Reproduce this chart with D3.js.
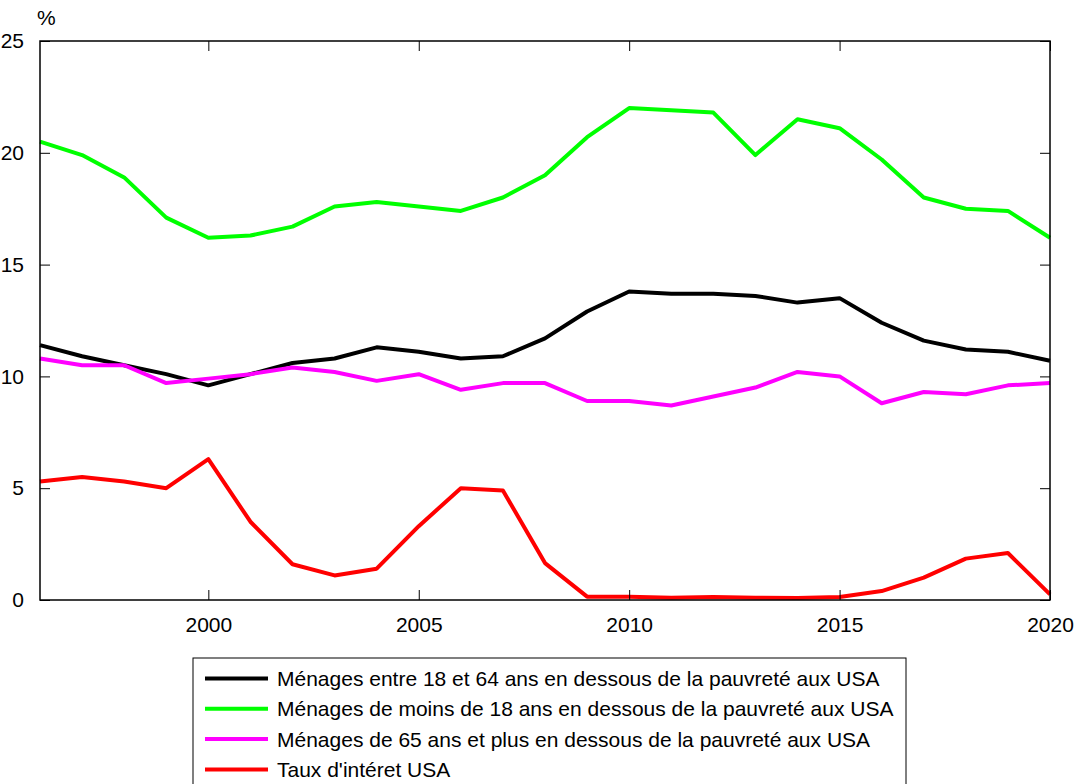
<!DOCTYPE html>
<html>
<head>
<meta charset="utf-8">
<script src="https://cdn.jsdelivr.net/npm/d3@7"></script>
<style>
  body { margin: 0; background: #fff; }
  svg { display: block; font-family: "Liberation Sans", Arial, sans-serif; }
</style>
</head>
<body>
<svg id="chart" width="1083" height="784"></svg>
<script>
const years = d3.range(1996, 2021);
const yTicks = [0, 5, 10, 15, 20, 25];
const xTicks = [2000, 2005, 2010, 2015, 2020];

const adults = [11.4, 10.9, 10.5, 10.1, 9.6, 10.1, 10.6, 10.8, 11.3, 11.1, 10.8, 10.9, 11.7, 12.9, 13.8, 13.7, 13.7, 13.6, 13.3, 13.5, 12.4, 11.6, 11.2, 11.1, 10.7];
const children = [20.5, 19.9, 18.9, 17.1, 16.2, 16.3, 16.7, 17.6, 17.8, 17.6, 17.4, 18.0, 19.0, 20.7, 22.0, 21.9, 21.8, 19.9, 21.5, 21.1, 19.7, 18.0, 17.5, 17.4, 16.2];
const seniors = [10.8, 10.5, 10.5, 9.7, 9.9, 10.1, 10.4, 10.2, 9.8, 10.1, 9.4, 9.7, 9.7, 8.9, 8.9, 8.7, 9.1, 9.5, 10.2, 10.0, 8.8, 9.3, 9.2, 9.6, 9.7];
const rates = [5.3, 5.5, 5.3, 5.0, 6.3, 3.5, 1.6, 1.1, 1.4, 3.3, 5.0, 4.9, 1.65, 0.15, 0.15, 0.1, 0.13, 0.1, 0.09, 0.13, 0.4, 1.0, 1.85, 2.1, 0.25];

const series = [
  { name: "Ménages entre 18 et 64 ans en dessous de la pauvreté aux USA", values: adults, color: "#000000" },
  { name: "Ménages de moins de 18 ans en dessous de la pauvreté aux USA", values: children, color: "#00ff00" },
  { name: "Ménages de 65 ans et plus en dessous de la pauvreté aux USA", values: seniors, color: "#ff00ff" },
  { name: "Taux d'intéret USA", values: rates, color: "#ff0000" }
];

const svg = d3.select("#chart");
const m = { left: 40, right: 1050, top: 41, bottom: 600 };
const fontSize = 21;

const x = d3.scaleLinear().domain([1996, 2020]).range([m.left, m.right]);
const y = d3.scaleLinear().domain([0, 25]).range([m.bottom, m.top]);

const plot = svg.append("g");

// lines
const line = d3.line().x((d, i) => x(years[i])).y(d => y(d));
series.forEach(s => {
  plot.append("path")
    .datum(s.values)
    .attr("fill", "none")
    .attr("stroke", s.color)
    .attr("stroke-width", 4)
    .attr("stroke-linejoin", "round")
    .attr("d", line);
});

// axes, ticks point inward
const tickLen = 10;
const axisStyle = g => {
  g.select(".domain").remove();
  g.selectAll("text").attr("font-size", fontSize).attr("fill", "#000");
  g.selectAll("line").attr("stroke", "#000");
};

svg.append("g").attr("transform", `translate(0,${m.bottom})`)
  .call(d3.axisBottom(x).tickValues(xTicks).tickFormat(d3.format("d")).tickSize(-tickLen).tickPadding(tickLen + 7))
  .call(axisStyle);
svg.append("g").attr("transform", `translate(0,${m.top})`)
  .call(d3.axisTop(x).tickValues(xTicks).tickSize(-tickLen).tickFormat(""))
  .call(axisStyle);
svg.append("g").attr("transform", `translate(${m.left},0)`)
  .call(d3.axisLeft(y).tickValues(yTicks).tickSize(-tickLen).tickPadding(tickLen + 6))
  .call(axisStyle);
svg.append("g").attr("transform", `translate(${m.right},0)`)
  .call(d3.axisRight(y).tickValues(yTicks).tickSize(-tickLen).tickFormat(""))
  .call(axisStyle);

svg.append("rect")
  .attr("x", m.left).attr("y", m.top)
  .attr("width", m.right - m.left).attr("height", m.bottom - m.top)
  .attr("fill", "none").attr("stroke", "#000").attr("stroke-width", 1.5);

svg.append("text")
  .attr("x", 37).attr("y", 25)
  .attr("font-size", fontSize)
  .text("%");

// legend
const legend = svg.append("g").attr("transform", "translate(193,658)");
legend.append("rect")
  .attr("width", 713).attr("height", 140)
  .attr("fill", "#fff").attr("stroke", "#000").attr("stroke-width", 1);

series.forEach((s, i) => {
  const row = legend.append("g").attr("transform", `translate(0,${20.5 + i * 30.3})`);
  row.append("line")
    .attr("x1", 12).attr("x2", 75)
    .attr("stroke", s.color).attr("stroke-width", 4);
  row.append("text")
    .attr("x", 84).attr("y", 7.5)
    .attr("font-size", fontSize)
    .text(s.name);
});
</script>
</body>
</html>
